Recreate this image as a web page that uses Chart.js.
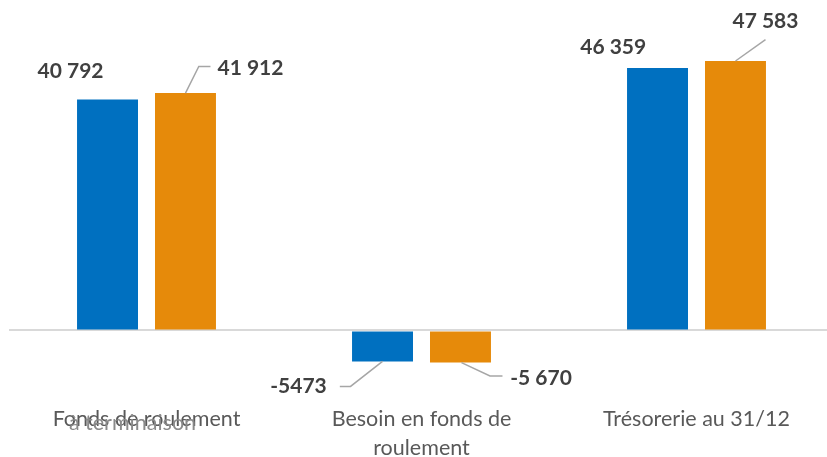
<!DOCTYPE html>
<html>
<head>
<meta charset="utf-8">
<script src="https://cdn.jsdelivr.net/npm/chart.js@4.4.1/dist/chart.umd.min.js"></script>
<style>
html,body{margin:0;padding:0;background:#fff;overflow:hidden;width:827px;height:457px;}
#wrap{position:relative;width:834px;height:457px;}
</style>
</head>
<body>
<div id="wrap"><canvas id="c"></canvas></div>
<script>
// ---- data ----
const categories = [["Fonds de roulement", "à terminaison"], ["Besoin en fonds de", "roulement"], ["Trésorerie au 31/12"]];
const seriesNames = ["Année N-1", "Année N"];
const valuesPrev = [40792, -5473, 46359];
const valuesCurr = [41912, -5670, 47583];
const labelsPrev = ["40 792", "-5473", "46 359"];
const labelsCurr = ["41 912", "-5 670", "47 583"];

// ---- styling / label placement (relative to bar end) ----
const labelLayout = [
  [ {dx:-37, dy:-28.6, lead:null},
    {dx:-84, dy:25, lead:[[0,0],[-32,25],[-42.7,25]]},
    {dx:-44.3, dy:-20.6, lead:null} ],
  [ {dx:65, dy:-25.2, lead:[[0,0],[13.3,-26.6],[25,-26.6]]},
    {dx:80.5, dy:15.8, lead:[[1,0],[29.5,13.4],[42,13.4]]},
    {dx:30, dy:-39.3, lead:[[0,0],[30,-21.4]]} ]
];
const datasetLabels = [labelsPrev, labelsCurr];

const dataLabelPlugin = {
  id: 'dataLabelsCustom',
  afterDatasetsDraw(chart) {
    const ctx = chart.ctx;
    ctx.save();
    chart.data.datasets.forEach((ds, i) => {
      const meta = chart.getDatasetMeta(i);
      meta.data.forEach((bar, j) => {
        const L = labelLayout[i][j];
        if (L.lead) {
          ctx.beginPath();
          ctx.strokeStyle = '#A6A6A6';
          ctx.lineWidth = 1.5;
          L.lead.forEach((p, k) => {
            const x = bar.x + p[0], y = bar.y + p[1];
            if (k === 0) ctx.moveTo(x, y); else ctx.lineTo(x, y);
          });
          ctx.stroke();
        }
        ctx.fillStyle = '#404040';
        ctx.font = 'bold 21px Lato';
        ctx.textAlign = 'center';
        ctx.textBaseline = 'middle';
        ctx.fillText(datasetLabels[i][j], bar.x + L.dx, bar.y + L.dy);
      });
    });
    ctx.restore();
  }
};

const catLabelPlugin = {
  id: 'catLabels',
  afterDraw(chart) {
    const ctx = chart.ctx;
    const xs = chart.scales.x;
    ctx.save();
    ctx.font = '21.5px Lato';
    ctx.textAlign = 'center';
    ctx.textBaseline = 'middle';
    categories.forEach((lines, i) => {
      const cx = xs.getPixelForValue(i);
      lines.forEach((t, k) => {
        let x = cx, y = 419 + k * 29.5, col = '#595959';
        if (i === 0 && k === 1) { x = cx - 14; y = 423; col = '#8a8a8a'; }
        ctx.fillStyle = col;
        ctx.fillText(t, x, y);
      });
    });
    ctx.restore();
  }
};

new Chart(document.getElementById('c'), {
  type: 'bar',
  data: {
    labels: categories.map(c => c.join(' ')),
    datasets: [
      { label: seriesNames[0], data: valuesPrev, backgroundColor: '#0070C0' },
      { label: seriesNames[1], data: valuesCurr, backgroundColor: '#E68A0A' }
    ]
  },
  options: {
    responsive: true,
    maintainAspectRatio: false,
    animation: false,
    categoryPercentage: 0.567,
    barPercentage: 0.782,
    layout: { padding: { left: 9, right: 0, top: 47.3, bottom: 69.9 } },
    plugins: { legend: { display: false }, tooltip: { enabled: false } },
    scales: {
      x: { display: false },
      y: {
        min: -10000, max: 50000,
        ticks: { display: false, stepSize: 10000 },
        border: { display: false },
        grid: {
          drawTicks: false,
          lineWidth: 2,
          color: (c) => (c.tick && c.tick.value === 0) ? '#D9D9D9' : 'rgba(0,0,0,0)'
        }
      }
    }
  },
  plugins: [dataLabelPlugin, catLabelPlugin]
});
</script>
</body>
</html>
